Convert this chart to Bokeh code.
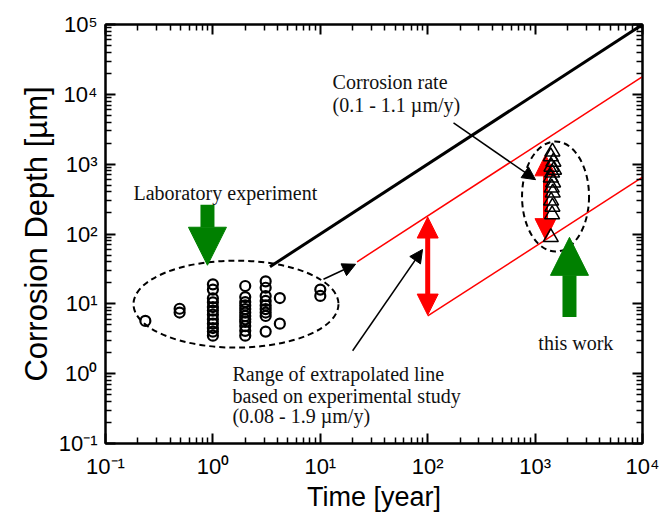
from bokeh.plotting import figure
from bokeh.models import LogAxis, FixedTicker, CustomJSTickFormatter, Arrow, NormalHead
from bokeh.core.properties import value
from bokeh.embed import file_html
from bokeh.resources import INLINE

# ---------------- data ----------------
# Laboratory experiment: time [year], corrosion depth [µm]
lab_time = [0.235, 0.49, 0.49,
            1.0, 1.0, 1.0, 1.0, 1.0, 1.0, 1.0, 1.0, 1.0, 1.0, 1.0, 1.0,
            2.0, 2.0, 2.0, 2.0, 2.0, 2.0, 2.0, 2.0, 2.0, 2.0, 2.0, 2.0,
            3.1, 3.1, 3.1, 3.1, 3.1, 3.1, 3.1, 3.1, 3.1,
            4.2, 4.2, 10.0, 10.0]
lab_depth = [5.7, 7.5, 8.5,
             19, 16, 12, 10.5, 9, 8, 7, 6, 5.2, 4.5, 4.0, 3.5,
             18, 12.5, 10.6, 9.5, 8.4, 7.5, 6.7, 6.0, 5.5, 4.8, 4.1, 3.5,
             21, 17, 12.9, 11, 9.5, 8.4, 7.5, 6.7, 4.0,
             12.1, 5.2, 16, 13]

# This work
this_time = [1450, 1400, 1480, 1420, 1500, 1440, 1400, 1470, 1430, 1460, 1410, 1450, 1440, 1400]
this_depth = [1510, 1290, 1080, 915, 830, 755, 640, 545, 460, 390, 300, 245, 190, 90]

# Corrosion-rate line and range of extrapolated lines
black_time = [3.4, 10000]
black_depth = [34, 100000]
red_hi_time = [22, 10000]
red_hi_depth = [40, 18000]
red_lo_time = [100, 10000]
red_lo_depth = [6.7, 650]

# Red range arrows: time, lower depth, upper depth
range_time = [100, 1250]
range_low = [6.9, 83]
range_high = [175, 1360]

major_ticks_x = [0.1, 1, 10, 100, 1000, 10000]
major_ticks_y = [0.1, 1, 10, 100, 1000, 10000, 100000]

# ---------------- figure ----------------
p = figure(width=664, height=514, x_axis_type="log", y_axis_type="log",
           x_range=(0.1, 1e4), y_range=(0.1, 1e5),
           output_backend="svg", toolbar_location=None,
           min_border_left=105, min_border_right=22,
           min_border_top=24, min_border_bottom=69)
p.xgrid.visible = False
p.ygrid.visible = False
p.outline_line_color = "black"
p.outline_line_width = 2
p.background_fill_color = "white"
p.border_fill_color = "white"


def minors(majors):
    out = []
    for m in majors[:-1]:
        out += [m * k for k in range(2, 10)]
    return out


fmt = CustomJSTickFormatter(code="""
const e = Math.round(Math.log10(tick));
const sup = {"-": "\u207b", "0": "\u2070", "1": "\u00b9", "2": "\u00b2", "3": "\u00b3",
             "4": "\u2074", "5": "\u2075", "6": "\u2076", "7": "\u2077", "8": "\u2078", "9": "\u2079"};
return "10" + String(e).split("").map(c => sup[c]).join("");
""")
blank_fmt = CustomJSTickFormatter(code="return '';")

xt = FixedTicker(ticks=major_ticks_x, minor_ticks=minors(major_ticks_x))
yt = FixedTicker(ticks=major_ticks_y, minor_ticks=minors(major_ticks_y))


def style_axis(ax):
    ax.axis_line_width = 2
    ax.major_tick_in = 10
    ax.major_tick_out = 0
    ax.minor_tick_in = 6
    ax.minor_tick_out = 0
    ax.major_tick_line_width = 2
    ax.minor_tick_line_width = 1.5
    ax.major_label_text_font = "Liberation Sans"
    ax.major_label_text_font_size = "22px"
    ax.major_label_text_color = "black"
    ax.axis_label_text_font = "Liberation Sans"
    ax.axis_label_text_font_style = "normal"
    ax.axis_label_text_color = "black"


p.xaxis.ticker = xt
p.yaxis.ticker = yt
p.xaxis.formatter = fmt
p.yaxis.formatter = fmt
for ax in p.xaxis + p.yaxis:
    style_axis(ax)
p.xaxis.axis_label = "Time [year]"
p.yaxis.axis_label = "Corrosion Depth [µm]"
p.xaxis.axis_label_text_font_size = "27px"
p.yaxis.axis_label_text_font_size = "31px"
p.xaxis.major_label_standoff = 10
p.yaxis.major_label_standoff = 8
p.xaxis.axis_label_standoff = 0
p.yaxis.axis_label_standoff = 2

for side, tk in (("right", yt), ("above", xt)):
    ax = LogAxis(ticker=tk, formatter=blank_fmt)
    style_axis(ax)
    ax.major_label_text_font_size = "1px"
    ax.major_label_standoff = 0
    p.add_layout(ax, side)

# ---------------- dashed ellipses ----------------
p.ellipse(x=[1.64], y=[9.9], width=205, height=87, width_units="screen", height_units="screen",
          fill_alpha=0, line_color="black", line_width=2, line_dash="6 4")
p.ellipse(x=[1550], y=[344], width=67, height=110, width_units="screen", height_units="screen",
          fill_alpha=0, line_color="black", line_width=2, line_dash="6 4")

# ---------------- red range arrows (under glyphs) ----------------
for t, lo, hi in zip(range_time, range_low, range_high):
    p.add_layout(Arrow(x_start=t, y_start=lo, x_end=t, y_end=hi,
                       line_color="#ff0000", line_width=5, level="underlay",
                       start=NormalHead(size=21, fill_color="#ff0000", line_color="#ff0000"),
                       end=NormalHead(size=21, fill_color="#ff0000", line_color="#ff0000")))

# ---------------- lines ----------------
p.line(black_time, black_depth, line_color="black", line_width=3)
p.line(red_hi_time, red_hi_depth, line_color="#ff0000", line_width=1.5)
p.line(red_lo_time, red_lo_depth, line_color="#ff0000", line_width=1.5)

# ---------------- markers ----------------
p.scatter(lab_time, lab_depth, marker="circle", size=10, fill_alpha=0,
          line_color="black", line_width=2.2)
p.scatter(this_time, this_depth, marker="triangle", size=15, fill_alpha=0,
          line_color="black", line_width=1.5)

# ---------------- black pointer arrows ----------------
for xs, ys, xe, ye in [(174, 3890, 1009, 600), (10.7, 22.5, 21.3, 36.9), (20, 2.13, 89.5, 60)]:
    p.add_layout(Arrow(x_start=xs, y_start=ys, x_end=xe, y_end=ye,
                       line_color="black", line_width=1.5,
                       end=NormalHead(size=13, fill_color="black", line_color="black")))

# ---------------- green arrows ----------------
for xs, ys, xe, ye in [(0.89, 263, 0.89, 35.7), (2090, 6.5, 2090, 89.6)]:
    p.add_layout(Arrow(x_start=xs, y_start=ys, x_end=xe, y_end=ye,
                       line_color="#008000", line_width=14,
                       end=NormalHead(size=38, fill_color="#008000", line_color="#008000")))

# ---------------- annotation texts ----------------
ann_x = [13.0, 13.0, 0.182, 1.52, 1.52, 1.52, 1072]
ann_y = [14900, 7010, 392, 1.0, 0.486, 0.244, 2.77]
ann_text = ["Corrosion rate", "(0.1 - 1.1 µm/y)", "Laboratory experiment",
            "Range of extrapolated line", "based on experimental study",
            "(0.08 - 1.9 µm/y)", "this work"]
p.text(x=ann_x, y=ann_y, text=ann_text, text_font=value("Liberation Serif"),
       text_font_size="20px", text_baseline="alphabetic", text_align="left",
       text_color="#111111")

open("out.html", "w").write(file_html(p, INLINE))
